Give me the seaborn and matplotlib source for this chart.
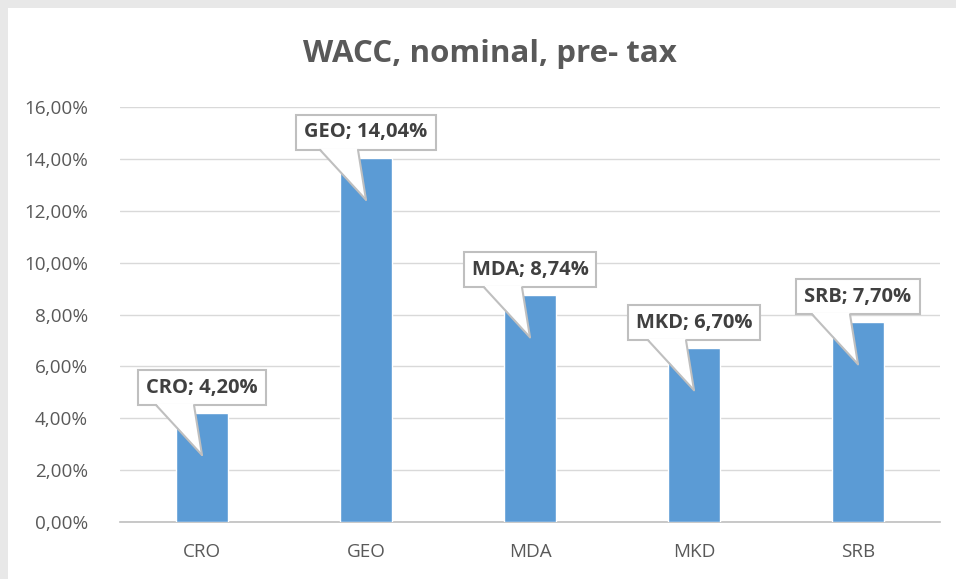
import numpy as np
import pandas as pd
import seaborn as sns
import matplotlib.pyplot as plt
from matplotlib.patches import Rectangle, Polygon
from matplotlib.lines import Line2D
from matplotlib.transforms import IdentityTransform
from matplotlib.ticker import FuncFormatter

# ---------------------------------------------------------------------------- #
#                                    Data                                      #
# ---------------------------------------------------------------------------- #
countries = ["CRO", "GEO", "MDA", "MKD", "SRB"]
wacc_pct = [4.20, 14.04, 8.74, 6.70, 7.70]
y_ticks = [0, 2, 4, 6, 8, 10, 12, 14, 16]
title = "WACC, nominal, pre- tax"

df = pd.DataFrame({"country": countries, "wacc": wacc_pct})

sns.set_style("white")
plt.rcParams["font.family"] = ["Open Sans", "DejaVu Sans"]

BAR = "#5B9BD5"
TXT = "#595959"
GRID = "#D9D9D9"
EDGE = "#BFBFBF"

W, H = 956, 579
fig = plt.figure(figsize=(W / 100, H / 100), dpi=100)
fig.patch.set_facecolor("#E8E8E8")
fig.patches.append(Rectangle((8 / W, 0), 1 - 8 / W, 1 - 8 / H, transform=fig.transFigure,
                             facecolor="white", edgecolor="none", zorder=-5))

ax = fig.add_axes([120 / W, (H - 522) / H, 820 / W, (522 - 107) / H])
ax.set_zorder(1)
ax.set_facecolor("none")
sns.barplot(data=df, x="country", y="wacc", color=BAR, saturation=1, width=0.32, ax=ax, zorder=3)

ax.set_ylim(0, 16)
ax.set_xlim(-0.5, len(countries) - 0.5)
ax.set_yticks(y_ticks)
ax.yaxis.set_major_formatter(FuncFormatter(lambda v, p: f"{v:.2f}".replace(".", ",") + "%"))
ax.grid(axis="y", color=GRID, lw=1, zorder=0)
ax.set_axisbelow(True)
for s in ["top", "right", "left"]:
    ax.spines[s].set_visible(False)
ax.spines["bottom"].set_color(EDGE)
ax.spines["bottom"].set_linewidth(1.2)
ax.tick_params(axis="both", length=0, labelsize=13.6, colors=TXT)
ax.tick_params(axis="y", pad=23)
ax.tick_params(axis="x", pad=15)
ax.set_xlabel("")
ax.set_ylabel("")

fig.text(0.512, 1 - 62 / H, title, ha="center", va="baseline", fontsize=22.5,
         fontweight="bold", color=TXT)

# ---------------------------------------------------------------------------- #
#                              Callout labels                                  #
# ---------------------------------------------------------------------------- #
fig.canvas.draw()
renderer = fig.canvas.get_renderer()
for i, (c, v) in enumerate(zip(countries, wacc_pct)):
    label = f"{c}; " + f"{v:.2f}".replace(".", ",") + "%"
    px, py = ax.transData.transform((i, v))
    bottom = py + 8
    t = fig.text(px / W, (bottom + 17.5) / H, label, ha="center", va="center", fontsize=14.5,
                 fontweight="bold", color="#404040", zorder=13)
    ext = t.get_window_extent(renderer)
    x0, x1 = ext.x0 - 8, ext.x1 + 8
    fig.patches.append(Rectangle((x0, bottom), x1 - x0, 35, fc="white", ec=EDGE, lw=1.5,
                                 transform=IdentityTransform(), zorder=10))
    tip = (px, py - 42)
    left = (px - 46, bottom)
    right = (px - 8, bottom)
    fig.patches.append(Polygon([(left[0], bottom + 1.5), (right[0], bottom + 1.5), tip],
                               closed=True, fc="white", ec="none",
                               transform=IdentityTransform(), zorder=11))
    for a in (left, right):
        fig.lines.append(Line2D([a[0], tip[0]], [a[1], tip[1]], color=EDGE, lw=1.5,
                                transform=IdentityTransform(), zorder=12))

fig.savefig("out.png", dpi=100)
